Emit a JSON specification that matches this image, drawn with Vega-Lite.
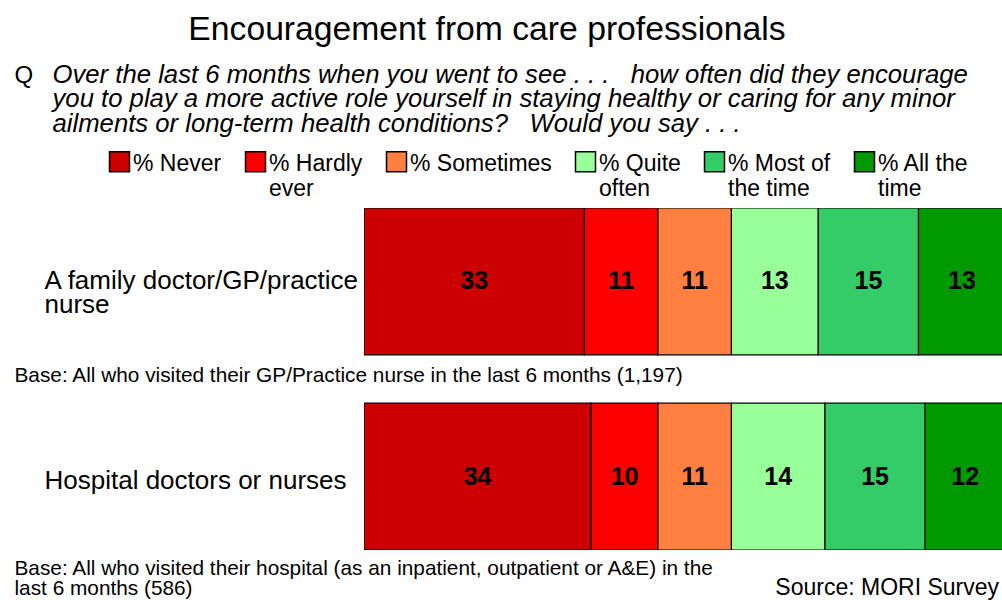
{
  "$schema": "https://vega.github.io/schema/vega-lite/v6.json",
  "autosize": {"type": "none"},
  "padding": {"left": 364, "top": 208, "right": 0, "bottom": 50},
  "width": 638,
  "height": 342,
  "background": "white",
  "config": {"view": {"stroke": null}, "font": "Liberation Sans"},
  "title": {
    "text": "Encouragement from care professionals",
    "anchor": "middle",
    "frame": "group",
    "dx": -196,
    "offset": 14,
    "font": "Liberation Sans",
    "fontSize": 33.7,
    "fontWeight": "normal",
    "color": "black"
  },
  "data": {
    "values": [
      {"group": "A family doctor/GP/practice nurse", "response": "% Never", "order": 1, "value": 33},
      {"group": "A family doctor/GP/practice nurse", "response": "% Hardly ever", "order": 2, "value": 11},
      {"group": "A family doctor/GP/practice nurse", "response": "% Sometimes", "order": 3, "value": 11},
      {"group": "A family doctor/GP/practice nurse", "response": "% Quite often", "order": 4, "value": 13},
      {"group": "A family doctor/GP/practice nurse", "response": "% Most of the time", "order": 5, "value": 15},
      {"group": "A family doctor/GP/practice nurse", "response": "% All the time", "order": 6, "value": 13},
      {"group": "Hospital doctors or nurses", "response": "% Never", "order": 1, "value": 34},
      {"group": "Hospital doctors or nurses", "response": "% Hardly ever", "order": 2, "value": 10},
      {"group": "Hospital doctors or nurses", "response": "% Sometimes", "order": 3, "value": 11},
      {"group": "Hospital doctors or nurses", "response": "% Quite often", "order": 4, "value": 14},
      {"group": "Hospital doctors or nurses", "response": "% Most of the time", "order": 5, "value": 15},
      {"group": "Hospital doctors or nurses", "response": "% All the time", "order": 6, "value": 12}
    ]
  },
  "layer": [
    {
      "mark": {"type": "bar", "stroke": "black", "strokeWidth": 1.2, "clip": true},
      "encoding": {
        "y": {
          "field": "group", "type": "nominal",
          "sort": ["A family doctor/GP/practice nurse", "Hospital doctors or nurses"],
          "scale": {"type": "band", "paddingInner": 0.248, "paddingOuter": 0},
          "axis": {
            "orient": "left", "domain": false, "ticks": false, "grid": false,
            "labelAlign": "left", "labelPadding": 320, "labelFontSize": 26, "labelColor": "black",
            "labelLimit": 0, "labelBaseline": "middle", "labelLineHeight": 24,
            "labelOffset": {"condition": {"test": "datum.value == 'A family doctor/GP/practice nurse'", "value": 0}, "value": 4},
            "labelExpr": "datum.value == 'A family doctor/GP/practice nurse' ? ['A family doctor/GP/practice', 'nurse'] : datum.label",
            "title": "Q", "titleAngle": 0, "titleX": -350, "titleY": -145,
            "titleAlign": "left", "titleBaseline": "top", "titleFontSize": 24,
            "titleFontWeight": "normal", "titleColor": "black"
          }
        },
        "x": {
          "field": "value", "type": "quantitative", "stack": "zero",
          "scale": {"domain": [0, 95.5], "nice": false},
          "axis": {
            "orient": "top", "domain": false, "ticks": false, "labels": false, "grid": false,
            "title": [
              "Over the last 6 months when you went to see . . .\u00a0\u00a0 how often did they encourage",
              "you to play a more active role yourself in staying healthy or caring for any minor",
              "ailments or long-term health conditions?\u00a0\u00a0 Would you say . . ."
            ],
            "titleX": -312, "titleY": -146, "titleAlign": "left", "titleBaseline": "top",
            "titleFontSize": 25.7, "titleFontStyle": "italic", "titleFontWeight": "normal",
            "titleLineHeight": 24.5, "titleColor": "black", "titleLimit": 0
          }
        },
        "color": {
          "field": "response", "type": "nominal",
          "scale": {
            "domain": ["% Never", "% Hardly ever", "% Sometimes", "% Quite often", "% Most of the time", "% All the time"],
            "range": ["#CC0000", "#FF0000", "#FF8040", "#99FF99", "#33CC66", "#009900"]
          },
          "legend": {
            "orient": "none", "legendX": -256, "legendY": -58,
            "direction": "horizontal", "columns": 6, "columnPadding": 20,
            "symbolType": "square", "symbolSize": 400, "symbolStrokeColor": "black", "symbolStrokeWidth": 1.5,
            "symbolOpacity": 1,
            "labelFontSize": 23, "labelColor": "black", "labelLimit": 0, "labelOffset": 2,
            "labelBaseline": "middle", "labelLineHeight": 24,
            "labelExpr": "datum.label == '% Hardly ever' ? ['% Hardly', 'ever'] : datum.label == '% Quite often' ? ['% Quite', 'often'] : datum.label == '% Most of the time' ? ['% Most of', 'the time'] : datum.label == '% All the time' ? ['% All the', 'time'] : [datum.label, '']",
            "title": "Source: MORI Survey", "titleOrient": "bottom", "titleAnchor": "end",
            "titlePadding": 376, "titleFontSize": 23, "titleFontWeight": "normal", "titleColor": "black",
            "titleLimit": 0,
            "encode": {
              "title": {"update": {"dx": {"value": 30}}},
              "labels": {"update": {"dy": {"value": 2}}},
              "symbols": {
                "update": {
                  "stroke": {"value": "black"},
                  "strokeWidth": {"value": 1.5}
                }
              }
            }
          }
        },
        "order": {"field": "order", "type": "quantitative"}
      }
    },
    {
      "mark": {"type": "text", "font": "Liberation Sans", "fontWeight": "bold", "fontSize": 25, "color": "black", "baseline": "middle"},
      "encoding": {
        "y": {
          "field": "group", "type": "nominal",
          "sort": ["A family doctor/GP/practice nurse", "Hospital doctors or nurses"],
          "scale": {"type": "band", "paddingInner": 0.248, "paddingOuter": 0},
          "axis": {
            "orient": "right", "domain": false, "ticks": false, "labels": false, "grid": false,
            "title": "Base: All who visited their GP/Practice nurse in the last 6 months (1,197)",
            "titleAngle": 0, "titleX": -988, "titleY": 157, "titleAlign": "left", "titleBaseline": "top",
            "titleFontSize": 20.8, "titleFontWeight": "normal", "titleColor": "black", "titleLimit": 0
          }
        },
        "x": {
          "field": "value", "type": "quantitative", "stack": "zero", "bandPosition": 0.5,
          "scale": {"domain": [0, 95.5], "nice": false},
          "axis": {
            "orient": "bottom", "domain": false, "ticks": false, "labels": false, "grid": false,
            "title": [
              "Base: All who visited their hospital (as an inpatient, outpatient or A&E) in the",
              "last 6 months (586)"
            ],
            "titleX": -350, "titleY": 8, "titleAlign": "left", "titleBaseline": "top",
            "titleFontSize": 20.8, "titleFontWeight": "normal", "titleLineHeight": 20, "titleColor": "black",
            "titleLimit": 0
          }
        },
        "detail": {"field": "response", "type": "nominal"},
        "order": {"field": "order", "type": "quantitative"},
        "text": {"field": "value", "type": "quantitative"}
      }
    }
  ],
  "resolve": {
    "scale": {"x": "independent", "y": "independent"},
    "axis": {"x": "independent", "y": "independent"}
  }
}
